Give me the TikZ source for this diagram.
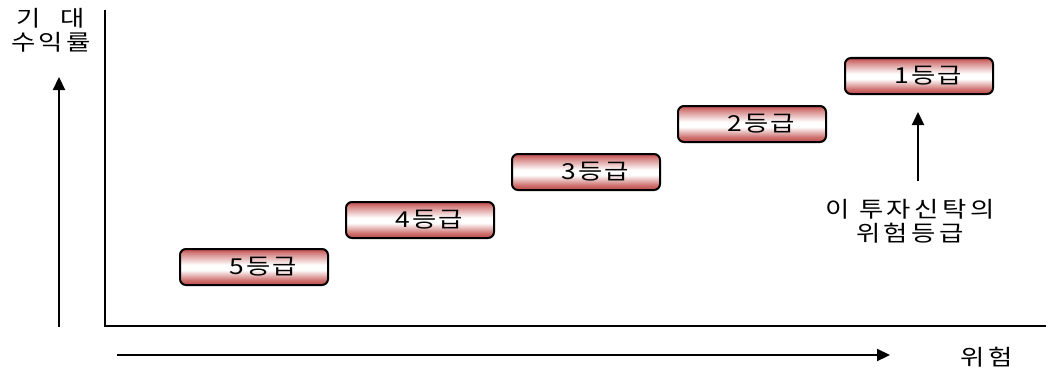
\documentclass[tikz,border=0pt]{standalone}
\usepackage{fontspec}
\setmainfont{Noto Sans CJK KR}
\newfontfamily\kr[FakeStretch=1.2,LetterSpace=8]{Noto Sans CJK KR}
\newfontfamily\krw[FakeStretch=1.2,LetterSpace=16]{Noto Sans CJK KR}
\usetikzlibrary{arrows.meta}
\definecolor{boxred}{RGB}{190,70,68}
\pgfdeclareverticalshading{redband}{100bp}{color(0bp)=(boxred);color(25bp)=(boxred);color(32bp)=(boxred!75!white);color(46bp)=(white);color(53bp)=(white);color(70bp)=(boxred!70!white);color(75bp)=(boxred);color(100bp)=(boxred)}
\begin{document}
\begin{tikzpicture}[x=1pt,y=-1pt,
  grade/.style={draw=black,line width=2pt,rounded corners=6pt,minimum width=148pt,minimum height=36pt,inner sep=0pt,shading=redband,font=\kr\fontsize{22}{24}\selectfont},
  lbl/.style={font=\krw\fontsize{22}{24}\selectfont,inner sep=0pt,align=center},
  ax/.style={line width=2.2pt},
  arr/.style={line width=2.2pt,-{Triangle[length=13pt,width=12pt]}}]
\useasboundingbox (0,0) rectangle (1048,369);
\coordinate (ytop) at (105,10);
\coordinate (org) at (105,326);
\coordinate (xend) at (1046,326);
\draw[ax] (ytop) -- (org) -- (xend);
\coordinate (la0) at (59,327);
\coordinate (la1) at (59,77);
\draw[arr] (la0) -- (la1);
\coordinate (ba0) at (117,355);
\coordinate (ba1) at (890,355);
\draw[arr] (ba0) -- (ba1);
\node[grade] (g5) at (254,267) {\hspace{18pt}5등급};
\node[grade] (g4) at (420,220) {\hspace{18pt}4등급};
\node[grade] (g3) at (586,172) {\hspace{18pt}3등급};
\node[grade] (g2) at (752,124) {\hspace{18pt}2등급};
\node[grade] (g1) at (919,76) {\hspace{18pt}1등급};
\node[lbl] (note) at (910,221) {이 투자신탁의\\위험등급};
\coordinate (na0) at (918,181);
\coordinate (na) at (918,112);
\draw[arr] (na0) -- (na);
\node[lbl] (ylab) at (51,30) {기\hspace{0.9em}대\\수익률};
\node[lbl] (xlab) at (987,357) {위험};
\end{tikzpicture}
\end{document}
